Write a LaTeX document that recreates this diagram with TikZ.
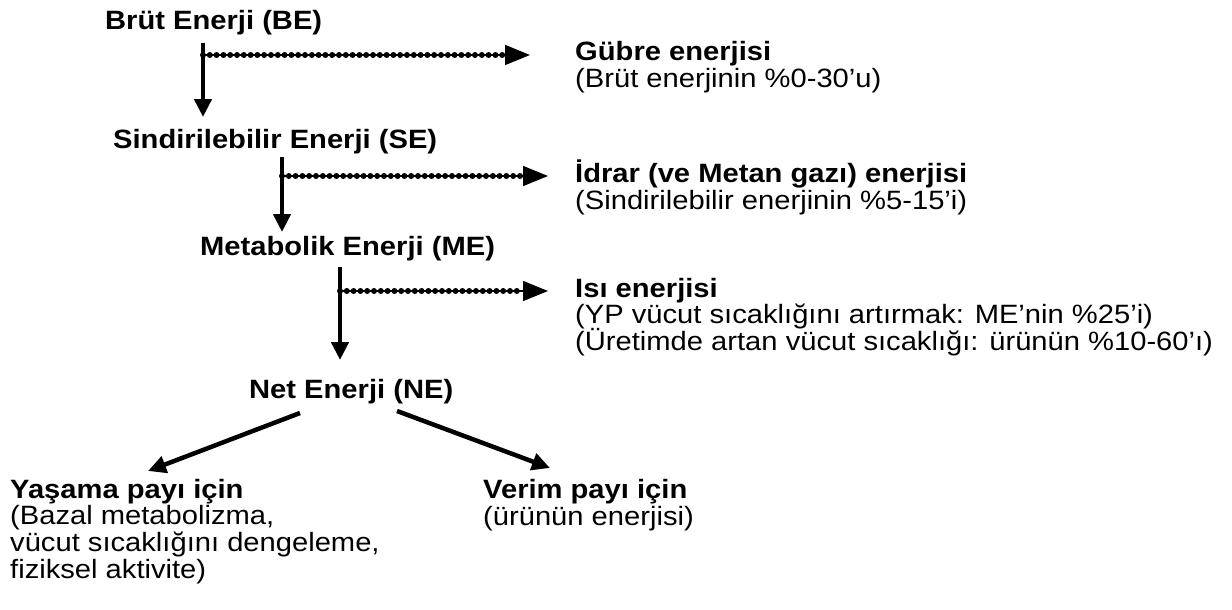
\documentclass[tikz,border=0pt]{standalone}
\usepackage{fontspec}
\setmainfont{Liberation Sans}[FakeStretch=1.1]
\usetikzlibrary{arrows.meta}

\tikzset{
  baslik/.style={anchor=base west, inner sep=0pt, font=\bfseries},
  aciklama/.style={anchor=base west, inner sep=0pt, align=left},
  akis/.style={line width=4.5pt, -{Triangle[length=18pt,width=17pt]}},
  kayip/.style={line width=1.5pt, -{Triangle[length=25pt,width=20pt]},
    postaction={draw, -, line width=6pt, line cap=round,
      dash pattern=on 0pt off 6.8pt, shorten >=25pt}}
}

\begin{document}
\begin{tikzpicture}[x=1pt,y=-1pt]
            \useasboundingbox (0,0) rectangle (1232,610);
            \fontsize{26.5}{26.7}\selectfont
            \lineskiplimit=-30pt\relax
            \lineskip=0pt\relax

            % 左列: 能量层级
            \node[baslik] (be) at (105,30) {Brüt Enerji (BE)};
            \node[baslik] (se) at (113,148) {Sindirilebilir Enerji (SE)};
            \node[baslik] (me) at (200,255) {Metabolik Enerji (ME)};
            \node[baslik] (ne) at (249,398) {Net Enerji (NE)};

            % 右列: 损失 (多行节点按最后一行定位)
            \node[baslik] (gubre) at (575,61) {Gübre enerjisi};
            \node[aciklama] (gubre-not) at (575,88) {(Brüt enerjinin \%0-30’u)};
            \node[baslik] (idrar) at (575,182) {İdrar (ve Metan gazı) enerjisi};
            \node[aciklama] (idrar-not) at (575,209) {(Sindirilebilir enerjinin \%5-15’i)};
            \node[baslik] (isi) at (575,297) {Isı enerjisi};
            \node[aciklama] (isi-not) at (575,350) {(YP vücut sıcaklığını artırmak: ME’nin \%25’i)\\(Üretimde artan vücut sıcaklığı: ürünün \%10-60’ı)};

            % 底部: 分配
            \node[baslik] (yasama) at (10,498) {Yaşama payı için};
            \node[aciklama] (yasama-not) at (10,578) {(Bazal metabolizma,\\vücut sıcaklığını dengeleme,\\fiziksel aktivite)};
            \node[baslik] (verim) at (483,498) {Verim payı için};
            \node[aciklama] (verim-not) at (483,525) {(ürünün enerjisi)};

            % 箭头起点和终点
            \coordinate (be-s) at (203,43);
            \coordinate (se-s) at (282,157);
            \coordinate (me-s) at (340,267);
            \coordinate (ne-l) at (300,413);
            \coordinate (ne-r) at (397,411);
            \coordinate (yasama-u) at (148,471);
            \coordinate (verim-u) at (550,468);

            % 向下的箭头
            \draw[akis] (be-s) -- (be-s |- 0,117);
            \draw[akis] (se-s) -- (se-s |- 0,232);
            \draw[akis] (me-s) -- (me-s |- 0,360);

            % 点线箭头 (损失)
            \draw[kayip] (be-s |- 0,55) -- (530,55);
            \draw[kayip] (se-s |- 0,176) -- (548,176);
            \draw[kayip] (me-s |- 0,291) -- (548,291);

            % 净能分配
            \draw[akis] (ne-l) -- (yasama-u);
            \draw[akis] (ne-r) -- (verim-u);
        \end{tikzpicture}
\end{document}
